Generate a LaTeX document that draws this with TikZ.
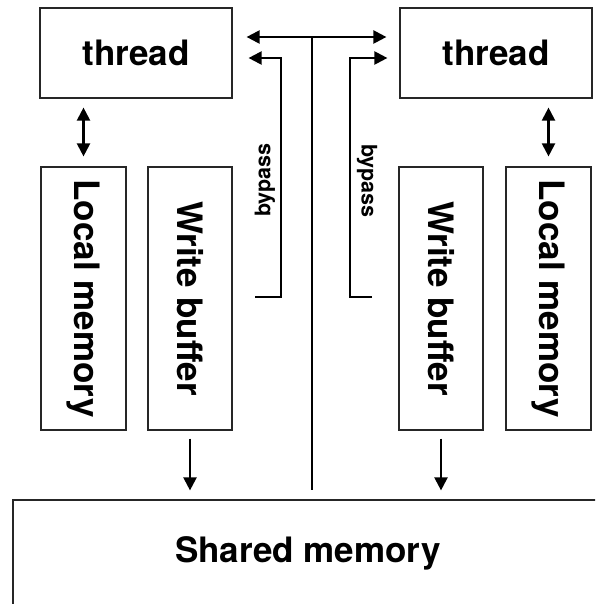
\documentclass[tikz,border=0pt]{standalone}
\usepackage{fontspec}
\setmainfont{TeX Gyre Heros}
\usetikzlibrary{arrows.meta}

\begin{document}
\begin{tikzpicture}[x=1pt, y=-1pt,
        >={Triangle[length=13pt, width=13pt]},
        box/.style={draw=black!85, line width=1.2pt, inner sep=0pt,
            font=\fontsize{35}{42}\selectfont\bfseries},
        arr/.style={line width=2.2pt},
        small/.style={inner sep=0pt, font=\fontsize{21.5}{26}\selectfont\bfseries}]
            \useasboundingbox (0,0) rectangle (595,604);
            \clip (0,0) rectangle (595,604);
            % Threads, local memories and write buffers
            \foreach \i/\xt/\xl/\xw in {1/136/83.5/190, 2/496/548.5/441} {
                \node[box, minimum width=192pt, minimum height=90pt]
                (Thread-\i) at (\xt,53) {thread};
                \node[box, minimum width=85pt, minimum height=263pt]
                (Local-\i) at (\xl,298.5) {\rotatebox{-90}{Local memory}};
                \node[box, minimum width=84pt, minimum height=263pt]
                (Buffer-\i) at (\xw,298.5) {\rotatebox{-90}{Write buffer}};
            }
            % Shared memory
            \node[box, minimum width=590pt, minimum height=106pt]
            (Shared) at (308,553) {Shared memory};
            % Arrows
            \foreach \i in {1,2} {
                \draw[arr, <->, shorten <=9pt, shorten >=10pt]
                (Thread-\i.south -| Local-\i.north) -- (Local-\i.north);
                \draw[arr, ->, shorten <=8pt, shorten >=9pt]
                (Buffer-\i.south) -- (Buffer-\i.south |- Shared.north);
            }
            % Bus
            \coordinate (Hub) at (312,37);
            \draw[arr, <->, shorten <=14pt, shorten >=13pt]
            ([yshift=16pt]Thread-1.east) -- ([yshift=16pt]Thread-2.west);
            \draw[arr, shorten >=9pt] (Hub) -- (Hub |- Shared.north);
            % Bypass
            \coordinate (Bypass-1) at (255,297);
            \coordinate (Bypass-2) at (372,297);
            \draw[arr, ->, shorten >=16pt]
            (Bypass-1) -- ++(26,0) |- ([yshift=-5pt]Thread-1.east);
            \draw[arr, ->, shorten >=12pt]
            (Bypass-2) -- ++(-22,0) |- ([yshift=-5pt]Thread-2.west);
            \node[small] (Bypass-label-1) at (265,180) {\rotatebox{90}{bypass}};
            \node[small] (Bypass-label-2) at (367,181) {\rotatebox{-90}{bypass}};
        \end{tikzpicture}
\end{document}
